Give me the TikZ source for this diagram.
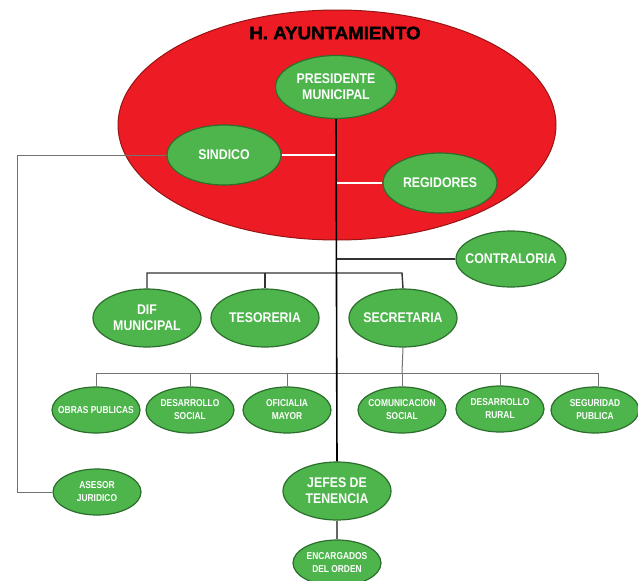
\documentclass[tikz,border=0pt]{standalone}
\usepackage{fontspec}
\setmainfont{Liberation Sans}
\newfontfamily\narrowf[FakeStretch=0.88]{Liberation Sans}
\newfontfamily\smallf[FakeStretch=0.84]{Liberation Sans}
\newfontfamily\titlef[FakeStretch=1.04,FakeBold=2]{Liberation Sans}
\usetikzlibrary{shapes.geometric}
\definecolor{bigred}{RGB}{237,28,36}
\definecolor{redline}{RGB}{150,20,20}
\definecolor{gfill}{RGB}{77,181,76}
\definecolor{gdraw}{RGB}{44,110,44}
\tikzset{
  x=1pt,y=-1pt,
  orgbox/.style={ellipse,draw=gdraw,line width=1.2pt,fill=gfill,inner ysep=0pt,
    text=white,align=center},
  bigbox/.style={orgbox,inner xsep=-32pt,minimum width=#1,minimum height=58pt,font=\narrowf\bfseries\fontsize{14}{16}\selectfont},
  smallbox/.style={orgbox,inner xsep=-22pt,minimum width=88pt,minimum height=46pt,font=\smallf\bfseries\fontsize{10}{13}\selectfont},
  mainline/.style={draw=black,line width=1.6pt},
  barline/.style={draw=black!80,line width=1.4pt},
  thinline/.style={draw=black!55,line width=1pt},
  whiteline/.style={draw=white,line width=2pt},
}
\begin{document}
\begin{tikzpicture}
\useasboundingbox (0,0) rectangle (638,581);
\fill[white] (0,0) rectangle (638,581);
% big ellipse
\node[ellipse,draw=redline,line width=1pt,fill=bigred,minimum width=438pt,minimum height=230pt,inner sep=0pt] (ayun) at (337,125) {};
\node[font=\titlef\bfseries\fontsize{18}{20}\selectfont,text=black] (title) at (335,33) {H. AYUNTAMIENTO};
% nodes
\node[bigbox=121pt,minimum height=63pt] (pres) at (336,87) {PRESIDENTE\\MUNICIPAL};
\node[bigbox=114pt,minimum height=60pt] (sind) at (224,155) {SINDICO};
\node[bigbox=114pt,minimum height=60pt] (regi) at (440,183) {REGIDORES};
\node[bigbox=110pt,minimum height=56pt] (cont) at (511,259) {CONTRALORIA};
\node[bigbox=108pt] (dif) at (147,318) {DIF\\MUNICIPAL};
\node[bigbox=108pt] (teso) at (265,318) {TESORERIA};
\node[bigbox=108pt] (secr) at (403,318) {SECRETARIA};
\node[smallbox] (obras) at (96,410) {OBRAS PUBLICAS};
\node[smallbox] (dsoc) at (190,410) {DESARROLLO\\SOCIAL};
\node[smallbox] (ofic) at (287,410) {OFICIALIA\\MAYOR};
\node[smallbox] (comu) at (402,410) {COMUNICACION\\SOCIAL};
\node[smallbox] (drur) at (500,409) {DESARROLLO\\RURAL};
\node[smallbox] (segu) at (595,410) {SEGURIDAD\\PUBLICA};
\node[smallbox] (ases) at (97,492) {ASESOR\\JURIDICO};
\node[bigbox=108pt] (jefe) at (337,491) {JEFES DE\\TENENCIA};
\node[smallbox] (enca) at (337,563) {ENCARGADOS\\DEL ORDEN};
% coordinates
\coordinate (lt) at (17,155);
\coordinate (lb) at (17,492);
\coordinate (vs) at (337,155);
\coordinate (vr) at (337,183);
\coordinate (vc) at (337,259);
\coordinate (bl) at (147,273);
\coordinate (br) at (402,273);
\coordinate (bm) at (265,273);
\coordinate (sb) at (402,373);
\coordinate (b2l) at (96,373);
\coordinate (b2r) at (598,373);
\coordinate (b2a) at (190,373);
\coordinate (b2b) at (287,373);
\coordinate (b2c) at (500,373);
% connectors
\path[thinline] (sind.west) -- (lt) -- (lb) -- (ases.west);
\path[whiteline] (sind.east) -- (vs);
\path[whiteline] (vr) -- (regi.west);
\path[barline] (vc) -- (cont.west);
\path[barline] (dif.north) -- (bl) -- (br) -- (secr.north);
\path[barline] (bm) -- (teso.north);
\path[thinline] (secr.south) -- (sb);
\path[thinline] (b2l) -- (b2r);
\path[thinline] (b2l) -- (obras.north);
\path[thinline] (b2a) -- (dsoc.north);
\path[thinline] (b2b) -- (ofic.north);
\path[thinline] (sb) -- (comu.north);
\path[thinline] (b2c) -- (drur.north);
\path[thinline] (b2r) -- (segu.north -| b2r);
\path[mainline] (pres.south) -- (jefe.north);
\path[barline,draw=black!60] (jefe.south) -- (enca.north);
\end{tikzpicture}
\end{document}
